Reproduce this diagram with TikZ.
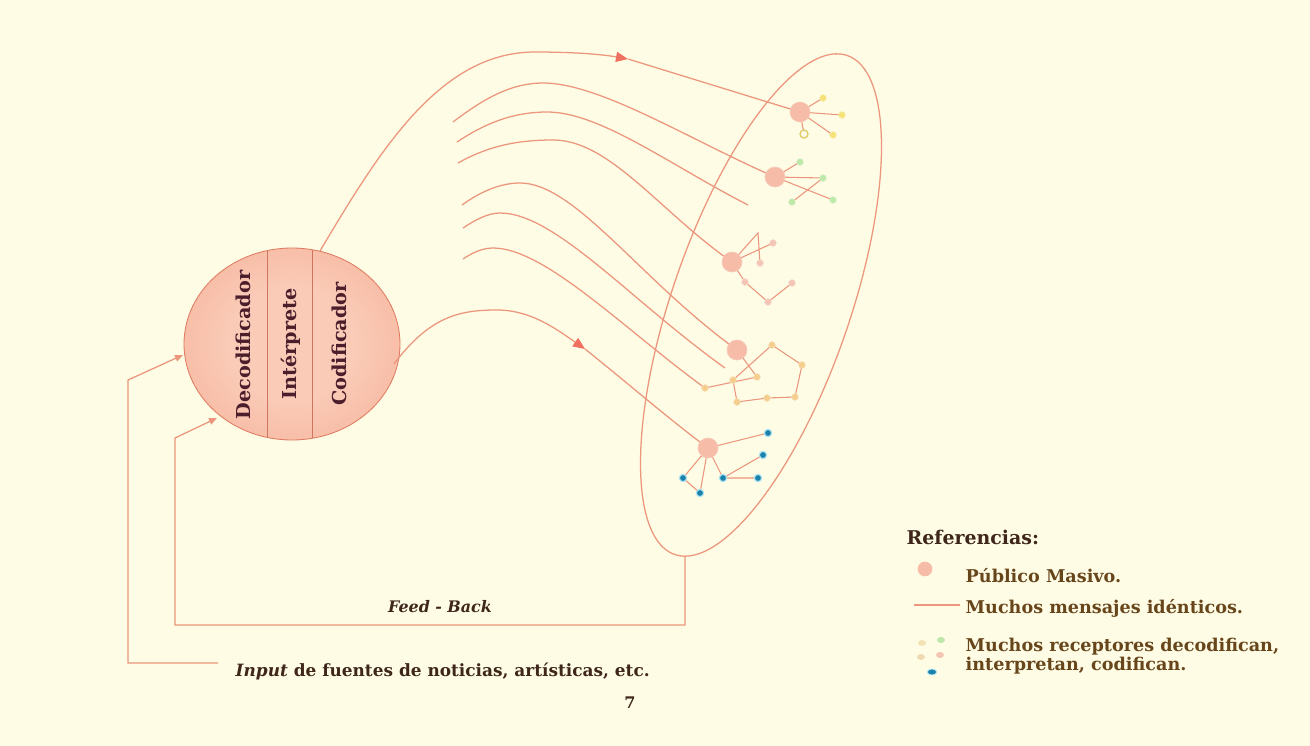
\documentclass[tikz,border=0pt]{standalone}
\usepackage{fontspec}
\setmainfont{DejaVu Serif}
\usetikzlibrary{arrows.meta,shapes.geometric}
\definecolor{bgc}{RGB}{254,252,228}
\definecolor{lnc}{RGB}{236,150,126}
\definecolor{arc}{RGB}{240,112,96}
\definecolor{txc}{RGB}{62,38,26}
\definecolor{lgc}{RGB}{104,70,28}
\definecolor{ctx}{RGB}{76,30,44}
\definecolor{inC}{RGB}{250,204,184}
\definecolor{midC}{RGB}{246,176,152}
\definecolor{outC}{RGB}{238,132,104}
\definecolor{ballc}{RGB}{246,188,168}
\definecolor{yelc}{RGB}{246,226,120}
\definecolor{grnc}{RGB}{190,232,170}
\definecolor{pnkc}{RGB}{244,196,180}
\definecolor{orc}{RGB}{245,205,140}
\definecolor{bluc}{RGB}{28,130,172}
\definecolor{haloc}{RGB}{175,228,242}
\pgfdeclareradialshading{circsh}{\pgfpoint{0bp}{0bp}}{color(0bp)=(inC); color(14bp)=(inC); color(36bp)=(midC); color(50bp)=(outC); color(75bp)=(outC)}
\begin{document}
\begin{tikzpicture}[x=0.75pt,y=-0.75pt,
  conn/.style={draw=lnc, line width=0.95pt},
  ball/.style={circle, fill=ballc, draw=ballc!80!white, line width=0.5pt, minimum size=15pt, inner sep=0pt},
  sat/.style={circle, minimum size=5pt, inner sep=0pt, draw=#1!70!white, fill=#1, line width=0.4pt},
  bsat/.style={circle, minimum size=5.5pt, inner sep=0pt, fill=bluc, draw=haloc, line width=0.9pt},
  ctext/.style={rotate=90, font=\bfseries\fontsize{14.4}{16}\selectfont, text=ctx},
  lgtext/.style={anchor=west, font=\bfseries\fontsize{13.2}{16}\selectfont, text=lgc, align=left},
  bigtip/.style={-{Triangle[length=9pt,width=7.5pt,color=arc]}},
  smtip/.style={-{Triangle[length=6pt,width=5pt]}}
]
% background
\fill[bgc] (0,0) rectangle (1310,746);
\useasboundingbox (0,0) rectangle (1310,746);

% central circle
\node[ellipse, minimum width=162pt, minimum height=144pt, inner sep=0pt, shading=circsh, draw={rgb,255:red,222;green,120;blue,96}, line width=0.6pt] (C) at (292,344) {};
\draw[draw={rgb,255:red,206;green,116;blue,96}, line width=0.6pt] (267,251) -- (267,437);
\draw[draw={rgb,255:red,206;green,116;blue,96}, line width=0.6pt] (312,250) -- (312,438);
\node[ctext] (tD) at (243,345) {Decodificador};
\node[ctext] (tI) at (291,344) {Intérprete};
\node[ctext] (tC) at (339,344) {Codificador};

% big ellipse (public)
\draw[conn] plot[domain=0:360, samples=140, smooth] ({761 + 86.3*cos(\x) + 84.1*sin(\x)}, {305 - 249.5*cos(\x) + 29.1*sin(\x)});

% ball centres
\coordinate (n1) at (800,112);
\coordinate (n2) at (775,177);
\coordinate (n3) at (732,262);
\coordinate (n4) at (737,350);
\coordinate (n5) at (708,448);

% connectors from circle
\coordinate (cU) at (320,251);
\coordinate (aU) at (628,59);
\draw[conn, bigtip] (cU) .. controls (380,150) and (440,52) .. (535,52) .. controls (570,52) and (600,54) .. (aU);
\draw[conn] (aU) -- (n1);
\coordinate (cL) at (394,364);
\coordinate (aL) at (585,349);
\draw[conn, bigtip] (cL) .. controls (430,316) and (460,310) .. (497,310) .. controls (530,310) and (555,328) .. (aL);
\draw[conn] (aL) .. controls (630,385) and (670,420) .. (n5);

% parallel messages
\coordinate (m1) at (453,122);
\coordinate (m2) at (457,142);
\coordinate (m3) at (458,163);
\coordinate (m4) at (462,205);
\coordinate (m5) at (463,228);
\coordinate (m6) at (463,259);
\coordinate (e2) at (748,205);
\coordinate (e5) at (725,368);
\coordinate (s46) at (705,388);
\draw[conn] (m1) .. controls (482,100) and (510,83) .. (543,83) .. controls (600,83) and (690,140) .. (n2);
\draw[conn] (m2) .. controls (487,122) and (515,112) .. (547,112) .. controls (600,112) and (670,165) .. (e2);
\draw[conn] (m3) .. controls (490,145) and (520,140) .. (553,140) .. controls (610,140) and (660,212) .. (n3);
\draw[conn] (m4) .. controls (480,192) and (500,183) .. (520,183) .. controls (575,183) and (640,280) .. (n4);
\draw[conn] (m5) .. controls (475,220) and (488,213) .. (500,213) .. controls (555,213) and (630,300) .. (e5);
\draw[conn] (m6) .. controls (472,253) and (482,248) .. (493,248) .. controls (545,248) and (625,330) .. (s46);

% satellites coordinates
\coordinate (s11) at (823,98);
\coordinate (s12) at (842,115);
\coordinate (s13) at (833,135);
\coordinate (s14) at (804,134);
\coordinate (s21) at (800,162);
\coordinate (s22) at (823,178);
\coordinate (s23) at (833,200);
\coordinate (s24) at (792,202);
\coordinate (ap3) at (758,233);
\coordinate (s31) at (773,243);
\coordinate (s32) at (760,263);
\coordinate (s33) at (745,282);
\coordinate (s34) at (768,302);
\coordinate (s35) at (792,283);
\coordinate (s41) at (772,345);
\coordinate (s42) at (802,365);
\coordinate (s43) at (795,397);
\coordinate (s44) at (767,398);
\coordinate (s45) at (737,402);
\coordinate (s47) at (757,377);
\coordinate (s48) at (733,380);
\coordinate (s51) at (768,433);
\coordinate (s52) at (763,455);
\coordinate (s53) at (758,478);
\coordinate (s54) at (723,478);
\coordinate (s55) at (683,478);
\coordinate (s56) at (700,493);

% satellite links
\draw[conn, line width=0.8pt] (n1) -- (s11) (n1) -- (s12) (n1) -- (s13) (n1) -- (s14);
\draw[conn, line width=0.8pt] (n2) -- (s21) (n2) -- (s22) (n2) -- (s23) (s24) -- (s22);
\draw[conn, line width=0.8pt] (n3) -- (ap3) -- (s32) (n3) -- (s31) (n3) -- (s33) -- (s34) -- (s35);
\draw[conn, line width=0.8pt] (s41) -- (s48) -- (s45) -- (s44) -- (s43) -- (s42) -- (s41) (s46) -- (s47) (n4) -- (s47);
\draw[conn, line width=0.8pt] (n5) -- (s55) -- (s56) -- (n5) (n5) -- (s54) (n5) -- (s51) (s54) -- (s52) (s54) -- (s53);

% balls
\node[ball] (N1) at (n1) {};
\node[ball] (N2) at (n2) {};
\node[ball] (N3) at (n3) {};
\node[ball] (N4) at (n4) {};
\node[ball] (N5) at (n5) {};

% satellites
\foreach \s in {s11,s12,s13} \node[sat=yelc] at (\s) {};
\node[circle, minimum size=6pt, inner sep=0pt, draw=yelc!90!black, fill=bgc, line width=1pt] at (s14) {};
\foreach \s in {s21,s22,s23,s24} \node[sat=grnc] at (\s) {};
\foreach \s in {s31,s32,s33,s34,s35} \node[sat=pnkc] at (\s) {};
\foreach \s in {s41,s42,s43,s44,s45,s46,s47,s48} \node[sat=orc] at (\s) {};
\foreach \s in {s51,s52,s53,s54,s55,s56} \node[bsat] at (\s) {};

% feedback and input
\coordinate (fbA) at (685,556);
\coordinate (fbB) at (685,625);
\coordinate (fbC) at (175,625);
\coordinate (fbD) at (175,438);
\coordinate (fbE) at (217,418);
\draw[conn, smtip] (fbA) -- (fbB) -- (fbC) -- (fbD) -- (fbE);
\coordinate (inA) at (218,663);
\coordinate (inB) at (128,663);
\coordinate (inC) at (128,380);
\coordinate (inD) at (183,355);
\draw[conn, smtip] (inA) -- (inB) -- (inC) -- (inD);

\node[font=\bfseries\itshape\fontsize{11.9}{14}\selectfont, text=txc] (fb) at (440,607) {Feed - Back};
\node[anchor=west, font=\bfseries\fontsize{12.7}{15}\selectfont, text=txc] (inp) at (231,671) {\textit{Input} de fuentes de noticias, artísticas, etc.};
\node[font=\bfseries\fontsize{12}{14}\selectfont, text=txc] (pg) at (630,703) {7};

% legend
\node[anchor=west, font=\bfseries\fontsize{14.2}{16}\selectfont, text=txc] (ref) at (902,537) {Referencias:};
\node[circle, fill=ballc, minimum size=11pt, inner sep=0pt] (lb) at (925,569) {};
\node[lgtext] (l1) at (961,576) {Público Masivo.};
\coordinate (lla) at (914,605);
\coordinate (llb) at (960,605);
\draw[conn] (lla) -- (llb);
\node[lgtext] (l2) at (961,608) {Muchos mensajes idénticos.};
\node[ellipse, fill={rgb,255:red,243;green,226;blue,180}, minimum width=6pt, minimum height=4.5pt, inner sep=0pt] (le1) at (922,643) {};
\node[ellipse, fill=grnc, minimum width=6pt, minimum height=4.5pt, inner sep=0pt] (le2) at (941,640) {};
\node[ellipse, fill={rgb,255:red,240;green,218;blue,180}, minimum width=6pt, minimum height=4.5pt, inner sep=0pt] (le3) at (921,657) {};
\node[ellipse, fill=pnkc, minimum width=6pt, minimum height=4.5pt, inner sep=0pt] (le4) at (940,655) {};
\node[ellipse, fill=bluc, draw=haloc, line width=0.6pt, minimum width=7pt, minimum height=4.5pt, inner sep=0pt] (le5) at (932,672) {};
\node[lgtext] (l3) at (961,656) {Muchos receptores decodifican,\\[-2pt]interpretan, codifican.};
\end{tikzpicture}
\end{document}
